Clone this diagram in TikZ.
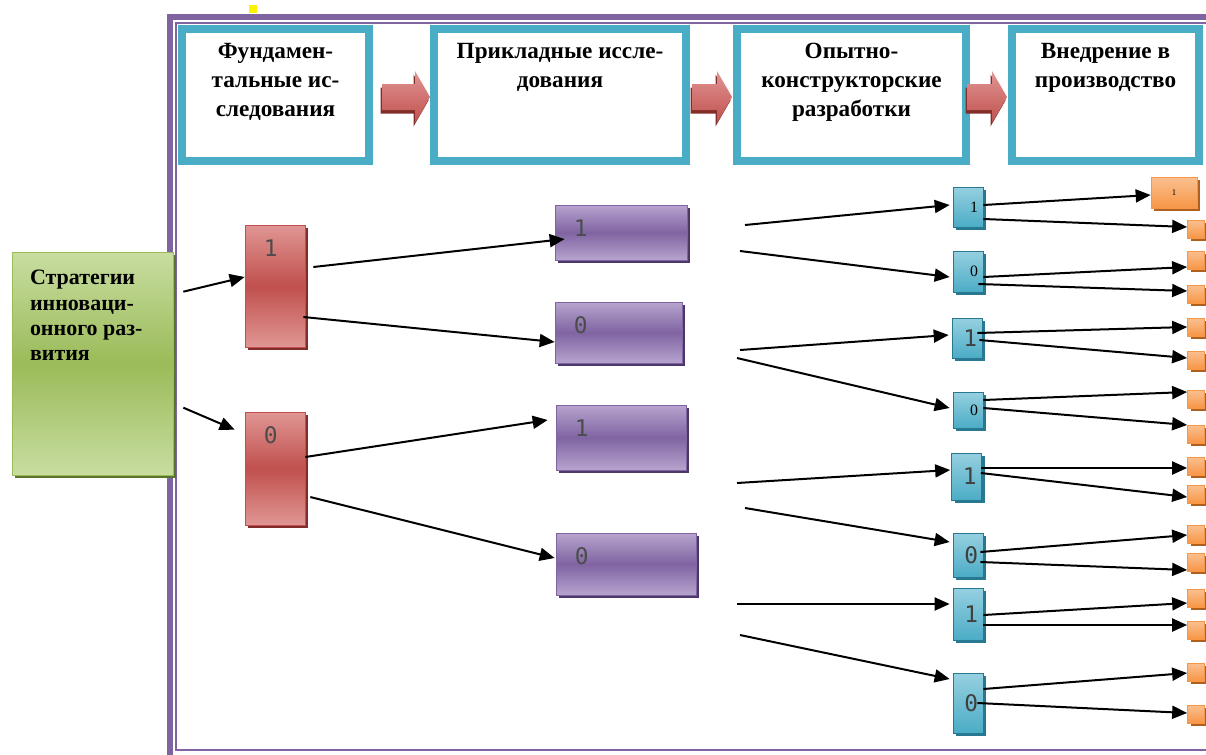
\documentclass[tikz,border=0pt]{standalone}
\usepackage{fontspec}
\setmainfont{Liberation Serif}
\newfontfamily\digfont{DejaVu Sans Mono}
\usetikzlibrary{positioning}
\usetikzlibrary{shadows}
\usetikzlibrary{arrows.meta}

\definecolor{framec}{RGB}{128,100,162}
\definecolor{tealc}{RGB}{75,172,198}
\definecolor{tealdk}{RGB}{40,120,145}
\definecolor{tealli}{RGB}{150,208,224}
\definecolor{redc}{RGB}{192,80,77}
\definecolor{redli}{RGB}{224,150,148}
\definecolor{reddk}{RGB}{130,45,42}
\definecolor{purc}{RGB}{128,100,162}
\definecolor{purli}{RGB}{182,164,206}
\definecolor{purdk}{RGB}{75,55,105}
\definecolor{grnc}{RGB}{155,187,89}
\definecolor{grnli}{RGB}{200,221,160}
\definecolor{grndk}{RGB}{90,115,45}
\definecolor{orc}{RGB}{247,150,70}
\definecolor{orli}{RGB}{250,192,145}
\definecolor{ordk}{RGB}{175,95,30}

\begin{document}
\begin{tikzpicture}[x=0.02cm,y=-0.02cm,
	stage/.style={draw=tealc,line width=0.16cm,fill=white,minimum height=2.64cm},
	stagetext/.style={font=\fontsize{13.2}{16.5}\selectfont\bfseries,align=center,inner sep=0pt},
	shad/.style={drop shadow={shadow xshift=0.06cm,shadow yshift=-0.06cm,fill=#1,opacity=1}},
	bigarr/.style={top color=redli,bottom color=redc,drop shadow={shadow xshift=-0.03cm,shadow yshift=-0.07cm,fill=reddk,opacity=1}},
	grnbox/.style={draw=grnc,top color=grnli,bottom color=grnli,middle color=grnc,shad=grndk},
	redbox/.style={draw=redc,top color=redli,bottom color=redli,middle color=redc,minimum width=1.2cm,shad=reddk},
	purbox/.style={draw=purc,top color=purli,bottom color=purli,middle color=purc,shad=purdk},
	bbox/.style={draw=tealdk,top color=tealli,bottom color=tealc,minimum width=0.6cm,inner sep=0pt,text width=0.4cm,align=right,shad=tealdk},
	obox/.style={draw=orc,top color=orli,bottom color=orc,minimum width=0.34cm,minimum height=0.36cm,inner sep=0pt,shad=ordk},
	dig/.style={label={[anchor=center,xshift=0.52cm,yshift=-0.48cm,font=\digfont\fontsize{13}{13}\selectfont,text=black!70]north west:#1}},
	bsm/.style={font=\fontsize{9}{9}\selectfont},
	blg/.style={font=\digfont\fontsize{13}{13}\selectfont,text=black!75},
	arr/.style={-{Triangle[length=0.3cm,width=0.26cm]},line width=0.04cm}]
	\useasboundingbox (0,0) rectangle (1206,754);
	% frame
	\draw[framec,line width=0.12cm] (170,17) rectangle (1230,760);
	\draw[framec,line width=0.04cm] (176,23) rectangle (1212,750);
	\fill[yellow] (249,5) rectangle (257,13);
	% stages
	\node[stage,minimum width=3.74cm] (t1) at (275.5,95) {};
	\node[stage,minimum width=5.04cm] (t2) at (560,95) {};
	\node[stage,minimum width=4.58cm] (t3) at (851.5,95) {};
	\node[stage,minimum width=3.74cm] (t4) at (1105.5,95) {};
	\foreach \t in {t1,t2,t3,t4}
		\draw[tealc,line width=0.04cm] ([shift={(6,6)}]\t.north west) rectangle ([shift={(-6,-6)}]\t.south east);
	\node[stagetext,below=0.36cm of t1.north] (t1txt) {Фундамен-\\тальные ис-\\следования};
	\node[stagetext,below=0.36cm of t2.north] (t2txt) {Прикладные иссле-\\дования};
	\node[stagetext,below=0.36cm of t3.north] (t3txt) {Опытно-\\конструкторские\\разработки};
	\node[stagetext,below=0.36cm of t4.north] (t4txt) {Внедрение в\\производство};
	\foreach \ax/\al in {382/48,692/40,967/40}
		\shade[bigarr] (\ax,84) -- (\ax+\al-15,84) -- (\ax+\al-15,71) -- (\ax+\al,97) -- (\ax+\al-15,123) -- (\ax+\al-15,110) -- (\ax,110) -- cycle;
	% strategies
	\node[grnbox,minimum width=3.22cm,minimum height=4.46cm] (strat) at (92.5,363.5) {};
	\node[stagetext,font=\fontsize{12.5}{14.5}\selectfont\bfseries,align=left,below right=0.36cm and 0.36cm of strat.north west] (strattxt) {Стратегии\\инноваци-\\онного раз-\\вития};
	\node[redbox,minimum height=2.44cm,dig=1] (r1) at (275,286) {};
	\node[redbox,minimum height=2.26cm,dig=0] (r0) at (275,468.5) {};
	\node[purbox,minimum width=2.64cm,minimum height=1.1cm,dig=1] (p1) at (621,232.5) {};
	\node[purbox,minimum width=2.54cm,minimum height=1.22cm,dig=0] (p2) at (618.5,332.5) {};
	\node[purbox,minimum width=2.6cm,minimum height=1.3cm,dig=1] (p3) at (621,437.5) {};
	\node[purbox,minimum width=2.8cm,minimum height=1.24cm,dig=0] (p4) at (626,564) {};
	% developments
	\node[bbox,bsm,minimum height=0.8cm] (b1) at (968,207) {1};
	\node[bbox,bsm,minimum height=0.82cm] (b2) at (968,271.5) {0};
	\node[bbox,blg,minimum height=0.8cm] (b3) at (967,338) {1};
	\node[bbox,bsm,minimum height=0.72cm] (b4) at (968,410) {0};
	\node[bbox,blg,minimum height=0.94cm] (b5) at (966.5,476.5) {1};
	\node[bbox,blg,minimum height=0.88cm] (b6) at (968,555) {0};
	\node[bbox,blg,minimum height=1.04cm] (b7) at (968,614) {1};
	\node[bbox,blg,minimum height=1.2cm] (b8) at (968,703) {0};
	% production
	\node[obox,minimum width=0.92cm,minimum height=0.62cm,font=\fontsize{5}{5}\selectfont] (o0) at (1174,192.5) {1};
	\foreach \n/\y in {1/229,2/260,3/294,4/327,5/360,6/399,7/434,8/466,9/494,10/534,11/562,12/598,13/630,14/672,15/714}
		\node[obox] (o\n) at (1196,\y) {};
	\coordinate (s1) at (745,225);
	\coordinate (s2) at (740,251);
	\coordinate (s3) at (740,350);
	\coordinate (s4) at (737,358);
	\coordinate (s5) at (737,483);
	\coordinate (s6) at (745,508);
	\coordinate (s7) at (737,604);
	\coordinate (s8) at (740,635);
	\draw[arr] ([shift={(10,40)}]strat.north east) -- ([shift={(0,-9)}]r1.west);
	\draw[arr] ([shift={(10,156)}]strat.north east) -- ([shift={(-10,18)}]r0.north west);
	\draw[arr] ([shift={(8,-19)}]r1.east) -- ([shift={(10,6.5)}]p1.west);
	\draw[arr] ([shift={(-2,31)}]r1.east) -- ([shift={(0,9.5)}]p2.west);
	\draw[arr] ([shift={(0,-11.5)}]r0.east) -- ([shift={(-8,-17.5)}]p3.west);
	\draw[arr] ([shift={(5,28.5)}]r0.east) -- ([shift={(-1,-6)}]p4.west);
	\draw[arr] (s1) -- ([shift={(-3,-2)}]b1.west);
	\draw[arr] (s2) -- ([shift={(-3,5.5)}]b2.west);
	\draw[arr] (s3) -- ([shift={(-3,-3)}]b3.west);
	\draw[arr] (s4) -- ([shift={(-3,-2)}]b4.west);
	\draw[arr] (s5) -- ([shift={(-1,-6.5)}]b5.west);
	\draw[arr] (s6) -- ([shift={(-3,-13)}]b6.west);
	\draw[arr] (s7) -- ([shift={(-3,-10)}]b7.west);
	\draw[arr] (s8) -- ([shift={(-3,-24)}]b8.west);
	\draw[arr] ([shift={(0,-2)}]b1.east) -- ([shift={(0,2.5)}]o0.west);
	\draw[arr] ([shift={(0,12)}]b1.east) -- ([shift={(0,-2)}]o1.west);
	\draw[arr] ([shift={(0,5.5)}]b2.east) -- ([shift={(0,7)}]o2.west);
	\draw[arr] ([shift={(-5,12.5)}]b2.east) -- ([shift={(0,-3)}]o3.west);
	\draw[arr] ([shift={(-5,-5)}]b3.east) -- (o4.west);
	\draw[arr] ([shift={(-3,2)}]b3.east) -- ([shift={(0,-2)}]o5.west);
	\draw[arr] ([shift={(0,-10)}]b4.east) -- ([shift={(0,-7)}]o6.west);
	\draw[arr] ([shift={(0,-2)}]b4.east) -- ([shift={(0,-9)}]o7.west);
	\draw[arr] ([shift={(-1,-8.5)}]b5.east) -- ([shift={(0,2)}]o8.west);
	\draw[arr] ([shift={(-1,-3.5)}]b5.east) -- ([shift={(0,3)}]o9.west);
	\draw[arr] ([shift={(-3,-3)}]b6.east) -- ([shift={(0,1)}]o10.west);
	\draw[arr] ([shift={(-3,7)}]b6.east) -- ([shift={(0,8)}]o11.west);
	\draw[arr] ([shift={(0,1)}]b7.east) -- ([shift={(0,5)}]o12.west);
	\draw[arr] ([shift={(0,11)}]b7.east) -- ([shift={(0,-5)}]o13.west);
	\draw[arr] ([shift={(0,-14)}]b8.east) -- ([shift={(0,1)}]o14.west);
	\draw[arr] ([shift={(-6,0)}]b8.east) -- ([shift={(0,-1)}]o15.west);
\end{tikzpicture}
\end{document}
